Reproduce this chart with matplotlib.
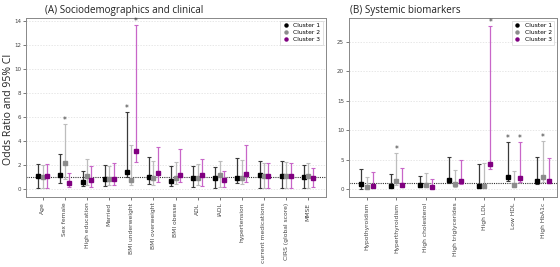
import matplotlib
matplotlib.use("Agg")
import matplotlib.pyplot as plt
import numpy as np

# ---------------- Data ----------------
cats_a = ["Age", "Sex female", "High education", "Married", "BMI underweight",
          "BMI overweight", "BMI obesse", "ADL", "IADL", "hypertension",
          "current medications", "CIRS (global score)", "MMSE"]
c1_a = [1.05, 1.16, 0.60, 0.80, 1.41, 1.02, 0.69, 0.90, 0.88, 0.94, 1.13, 1.05, 0.98]
c1_a_lo = [0.05, 0.46, 0.24, 0.28, 1.00, 0.43, 0.24, 0.20, 0.10, 0.46, 0.10, 0.10, 0.10]
c1_a_hi = [2.10, 2.90, 1.50, 1.97, 6.44, 2.64, 1.94, 1.94, 1.83, 2.61, 2.33, 2.30, 2.00]
c2_a = [1.00, 2.20, 1.07, 0.80, 0.74, 0.90, 0.90, 0.90, 1.16, 0.90, 1.05, 1.05, 1.05]
c2_a_lo = [0.05, 0.80, 0.30, 0.30, 0.35, 0.32, 0.40, 0.30, 0.12, 0.38, 0.10, 0.10, 0.10]
c2_a_hi = [2.00, 5.40, 2.53, 1.95, 3.65, 2.36, 2.28, 2.08, 2.30, 2.40, 2.20, 2.25, 2.20]
c3_a = [1.05, 0.52, 0.77, 0.85, 3.17, 1.32, 1.19, 1.16, 0.74, 1.24, 1.05, 1.05, 0.90]
c3_a_lo = [0.05, 0.18, 0.20, 0.32, 2.25, 0.60, 0.60, 0.25, 0.12, 0.60, 0.10, 0.10, 0.15]
c3_a_hi = [2.10, 1.30, 1.90, 2.16, 13.70, 3.53, 3.37, 2.53, 1.50, 3.70, 2.20, 2.20, 1.75]
sig_a = [(1, 1), (0, 4), (2, 4)]  # (cluster index, category index)

cats_b = ["Hypothyroidism", "Hyperthyroidism", "High cholesterol", "High triglycerides",
          "High LDL", "Low HDL", "High HbA1c"]
c1_b = [0.85, 0.50, 0.62, 1.58, 0.44, 2.10, 1.41]
c1_b_lo = [0.05, 0.30, 0.30, 1.00, 0.44, 1.36, 0.90]
c1_b_hi = [3.40, 2.60, 2.30, 5.50, 4.26, 7.94, 5.50]
c2_b = [0.34, 1.40, 0.73, 0.78, 0.44, 0.62, 2.10]
c2_b_lo = [0.05, 0.73, 0.30, 0.40, 0.44, 0.30, 1.24]
c2_b_hi = [2.04, 6.07, 2.72, 3.20, 4.50, 3.00, 8.20]
c3_b = [0.56, 0.73, 0.28, 1.30, 4.26, 1.92, 1.30]
c3_b_lo = [0.30, 0.30, 0.10, 0.90, 3.40, 1.24, 1.00]
c3_b_hi = [2.90, 3.50, 1.64, 4.94, 27.80, 7.94, 5.33]
sig_b = [(1, 1), (2, 4), (0, 5), (2, 5), (1, 6)]

labels = ["Cluster 1", "Cluster 2", "Cluster 3"]
pt_colors = ["#000000", "#8c8c8c", "#800080"]
bar_colors = ["#3a3a3a", "#bdbdbd", "#c866c8"]
offsets = [-0.2, 0.0, 0.2]

fig = plt.figure(figsize=(5.6, 2.67), dpi=100)
axA = fig.add_axes([0.046, 0.262, 0.536, 0.671])
axB = fig.add_axes([0.623, 0.262, 0.372, 0.671])


def panel(ax, cats, vals, los, his, sig, star_off):
    x = np.arange(len(cats))
    for k in range(3):
        v = np.array(vals[k]); lo = np.array(los[k]); hi = np.array(his[k])
        ax.errorbar(x + offsets[k], v, yerr=[v - lo, hi - v], fmt="none",
                    ecolor=bar_colors[k], elinewidth=0.9, capsize=1.6,
                    capthick=0.8, zorder=3)
        ax.plot(x + offsets[k], v, "s", color=pt_colors[k], markersize=2.4,
                zorder=4)
        ax.plot([], [], "o", color=pt_colors[k], markersize=2.2, label=labels[k])
    for k, i in sig:
        ax.text(i + offsets[k], his[k][i] + star_off, "*", ha="center",
                va="center", fontsize=5.5, color="#333333", zorder=5)
    ax.axhline(1, color="#333333", linestyle=(0, (1, 1)), linewidth=0.8, zorder=2)
    ax.grid(axis="y", color="#dddddd", linestyle=(0, (2, 2)), linewidth=0.5)
    ax.set_axisbelow(True)
    ax.set_xticks(x)
    ax.set_xticklabels(cats, rotation=90, fontsize=4.3, color="#222222")
    ax.tick_params(axis="y", labelsize=4.0, length=2, width=0.5, colors="#444444",
                   pad=1.5)
    ax.tick_params(axis="x", length=2, width=0.5, colors="#444444", pad=2)
    for s in ax.spines.values():
        s.set_color("#888888")
        s.set_linewidth(0.7)
    leg = ax.legend(loc="upper right", fontsize=4.3, frameon=True, handlelength=1.0,
                    borderpad=0.4, labelspacing=0.3, handletextpad=0.8,
                    fancybox=False)
    leg.get_frame().set_edgecolor("#cccccc")
    leg.get_frame().set_linewidth(0.5)


panel(axA, cats_a, [c1_a, c2_a, c3_a], [c1_a_lo, c2_a_lo, c3_a_lo],
      [c1_a_hi, c2_a_hi, c3_a_hi], sig_a, 0.3)
axA.set_xlim(-0.77, 12.8)
axA.set_ylim(-0.68, 14.3)
axA.set_yticks(np.arange(0, 15, 2))

panel(axB, cats_b, [c1_b, c2_b, c3_b], [c1_b_lo, c2_b_lo, c3_b_lo],
      [c1_b_hi, c2_b_hi, c3_b_hi], sig_b, 0.6)
axB.set_xlim(-0.62, 6.48)
axB.set_ylim(-1.36, 29.1)
axB.set_yticks(np.arange(0, 30, 5))

fig.text(0.016, 0.59, "Odds Ratio and 95% CI", rotation=90, ha="center",
         va="center", fontsize=7.6, family="Open Sans", color="#222222")
fig.text(0.080, 0.962, "(A) Sociodemographics and clinical", ha="left",
         va="center", fontsize=7.1, family="Open Sans", color="#222222")
fig.text(0.625, 0.962, "(B) Systemic biomarkers", ha="left",
         va="center", fontsize=7.1, family="Open Sans", color="#222222")

fig.savefig("out.png", dpi=100)
